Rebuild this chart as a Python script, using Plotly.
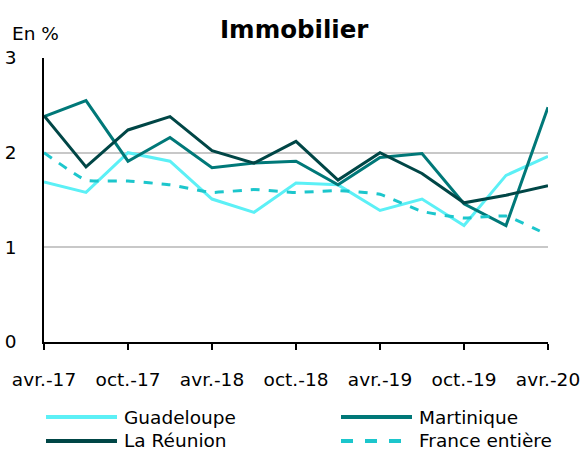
import plotly.graph_objects as go

quarters = ["avr.-17", "juil.-17", "oct.-17", "janv.-18", "avr.-18", "juil.-18", "oct.-18",
            "janv.-19", "avr.-19", "juil.-19", "oct.-19", "janv.-20", "avr.-20"]
guadeloupe = [1.69, 1.58, 2.00, 1.91, 1.51, 1.37, 1.68, 1.66, 1.39, 1.51, 1.23, 1.76, 1.96]
martinique = [2.38, 2.55, 1.91, 2.16, 1.84, 1.89, 1.91, 1.66, 1.95, 1.99, 1.46, 1.23, 2.48]
la_reunion = [2.39, 1.85, 2.24, 2.38, 2.02, 1.89, 2.12, 1.71, 2.00, 1.78, 1.47, 1.55, 1.65]
france = [2.00, 1.71, 1.70, 1.66, 1.58, 1.61, 1.58, 1.60, 1.56, 1.38, 1.31, 1.33, 1.13]

tick_labels = quarters[::2]
tick_idx = list(range(0, len(quarters), 2))
x_idx = list(range(len(quarters)))

series = [
    ("Guadeloupe", guadeloupe, "#5cf0f6", "solid", "linear"),
    ("Martinique", martinique, "#007878", "solid", "linear"),
    ("La Réunion", la_reunion, "#004646", "solid", "linear"),
    ("France entière", france, "#1cc6cc", "dash", "spline"),
]

FONT = "DejaVu Sans"
FS = 18.5
fig = go.Figure()
for name, vals, col, dash, shape in series:
    fig.add_trace(go.Scatter(
        x=x_idx, y=vals, name=name, mode="lines",
        line=dict(color=col, width=3, dash=dash, shape=shape, smoothing=0.4),
        showlegend=False,
    ))

# manual legend (2 columns)
leg_pos = [(46, 117, 417), (341, 412, 417), (46, 117, 441), (341, 412, 441)]
shapes = []
annotations = []
W, H = 583, 456
for (name, vals, col, dash, shape), (x0, x1, yy) in zip(series, leg_pos):
    shapes.append(dict(type="line", xref="paper", yref="paper",
                       x0=(x0 - 44) / 504, x1=(x1 - 44) / 504,
                       y0=(342 - yy) / 284, y1=(342 - yy) / 284,
                       line=dict(color=col, width=4, dash="dash" if dash == "dash" else "solid")))
    annotations.append(dict(text=name, xref="paper", yref="paper",
                            x=(x1 + 5 - 44) / 504, y=(342 - yy) / 284,
                            xanchor="left", yanchor="middle", showarrow=False,
                            font=dict(family=FONT, size=FS, color="#000000")))

annotations.append(dict(text="En %", xref="paper", yref="paper",
                        x=(10 - 44) / 504, y=(342 - 33) / 284, xanchor="left", yanchor="middle",
                        showarrow=False, font=dict(family=FONT, size=FS, color="#000000")))
annotations.append(dict(text="<b>Immobilier</b>", xref="paper", yref="paper",
                        x=(294 - 44) / 504, y=(342 - 29) / 284, xanchor="center", yanchor="middle",
                        showarrow=False, font=dict(family=FONT, size=24.5, color="#000000")))

fig.update_layout(
    width=W, height=H,
    margin=dict(l=44, r=35, t=58, b=114),
    paper_bgcolor="white", plot_bgcolor="white",
    font=dict(family=FONT, size=FS, color="#000000"),
    shapes=shapes, annotations=annotations,
    xaxis=dict(range=[0, 12], tickvals=tick_idx, ticktext=tick_labels, automargin=False,
               showgrid=False, showline=True, linecolor="#000000", linewidth=1.5,
               ticks="outside", ticklen=6, tickcolor="#000000", tickwidth=1.5,
               ticklabelstandoff=14, zeroline=False),
    yaxis=dict(range=[0, 3], tickvals=[0, 1, 2, 3], showgrid=True, gridcolor="#c8c8c8",
               gridwidth=1.5, showline=True, linecolor="#000000", linewidth=1.5, automargin=False,
               ticks="", ticklabelstandoff=22, zeroline=False),
)

fig.write_html("out.html")
